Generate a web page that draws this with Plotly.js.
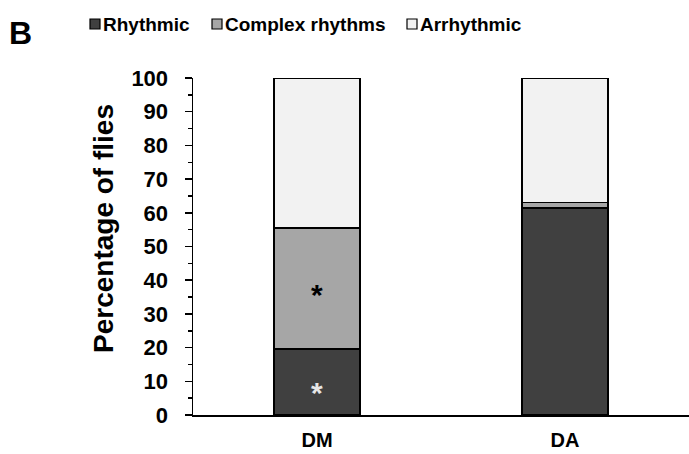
<!DOCTYPE html>
<html>
<head>
<meta charset="utf-8">
<script src="https://cdn.plot.ly/plotly-3.0.1.min.js"></script>
<style>
  html, body { margin: 0; padding: 0; background: #ffffff; }
  #chart { width: 689px; height: 454px; }
</style>
</head>
<body>
<div id="chart"></div>
<script>
// Circadian locomotor phenotypes per genotype (percentage of flies)
const categories = ['DM', 'DA'];
const seriesNames = ['Rhythmic', 'Complex rhythms', 'Arrhythmic'];
const rhythmic = [19.6, 61.5];
const complexRhythms = [35.9, 1.5];
const arrhythmic = [44.5, 37.0];
const yTicks = [0, 10, 20, 30, 40, 50, 60, 70, 80, 90, 100];

const fillColors = ['#404040', '#a6a6a6', '#f2f2f2'];
const FONT = 'Liberation Sans, Arial, sans-serif';

const W = 689, H = 454;
const M = { l: 193, r: 0, t: 78, b: 39 };
const plotW = W - M.l - M.r, plotH = H - M.t - M.b;
// pixel position -> paper coordinate helpers
const px = x => (x - M.l) / plotW;
const py = y => (H - M.b - y) / plotH;

const seriesValues = [rhythmic, complexRhythms, arrhythmic];
const traces = seriesValues.map((vals, i) => ({
  type: 'bar',
  name: seriesNames[i],
  x: categories,
  y: vals,
  marker: { color: fillColors[i], line: { color: '#000000', width: 1.5 } },
  hoverinfo: 'skip'
}));

// custom legend: outlined swatch + bold label
const legendSwatchX = [90, 212, 407];
const shapes = [];
const annotations = [];
seriesNames.forEach((name, i) => {
  const x0 = legendSwatchX[i];
  shapes.push({
    type: 'rect', xref: 'paper', yref: 'paper',
    x0: px(x0), x1: px(x0 + 10), y0: py(29), y1: py(19),
    fillcolor: fillColors[i], line: { color: '#000000', width: 1.2 }
  });
  annotations.push({
    xref: 'paper', yref: 'paper', x: px(x0 + 11), y: py(24),
    xanchor: 'left', yanchor: 'middle', showarrow: false,
    text: '<b>' + name + '</b>',
    font: { family: FONT, size: 19, color: '#000000' }
  });
});

// panel letter
annotations.push({
  xref: 'paper', yref: 'paper', x: px(7), y: py(33),
  xanchor: 'left', yanchor: 'middle', showarrow: false,
  text: '<b>B</b>', font: { family: FONT, size: 32, color: '#000000' }
});

// y-axis title
annotations.push({
  xref: 'paper', yref: 'paper', x: px(103), y: py(229),
  xanchor: 'center', yanchor: 'middle', showarrow: false, textangle: -90,
  text: '<b>Percentage of flies</b>',
  font: { family: FONT, size: 28, color: '#000000' }
});

// significance marks at the middle of the DM segments
annotations.push({
  x: categories[0], y: rhythmic[0] + complexRhythms[0] / 2,
  xref: 'x', yref: 'y', showarrow: false, yshift: -6,
  text: '<b>*</b>', font: { family: FONT, size: 30, color: '#000000' }
});
annotations.push({
  x: categories[0], y: rhythmic[0] / 2,
  xref: 'x', yref: 'y', showarrow: false, yshift: -11,
  text: '<b>*</b>', font: { family: FONT, size: 30, color: '#e6e6e6' }
});

const layout = {
  width: W, height: H,
  margin: M,
  paper_bgcolor: '#ffffff',
  plot_bgcolor: '#ffffff',
  barmode: 'stack',
  bargap: 0.653,
  showlegend: false,
  font: { family: FONT, color: '#000000' },
  xaxis: {
    type: 'category',
    range: [-0.5, 1.5],
    showline: true, linecolor: '#000000', linewidth: 1.5,
    ticks: '', showgrid: false, zeroline: false,
    tickfont: { family: FONT, size: 20, color: '#000000' },
    ticklabelstandoff: 6,
    tickvals: categories,
    ticktext: categories.map(c => '<b>' + c + '</b>')
  },
  yaxis: {
    range: [0, 100],
    tickvals: yTicks,
    ticktext: yTicks.map(v => '<b>' + v + '</b>'),
    ticks: 'outside', ticklen: 7, tickwidth: 1.5, tickcolor: '#000000',
    minor: { dtick: 5, tick0: 0, ticks: 'outside', ticklen: 4, tickwidth: 1.5, tickcolor: '#000000', showgrid: false },
    showline: true, linecolor: '#000000', linewidth: 1.5,
    showgrid: false, zeroline: false,
    tickfont: { family: FONT, size: 22, color: '#000000' },
    ticklabelstandoff: 12
  },
  shapes: shapes,
  annotations: annotations
};

Plotly.newPlot('chart', traces, layout, { displayModeBar: false, staticPlot: true });
</script>
</body>
</html>
